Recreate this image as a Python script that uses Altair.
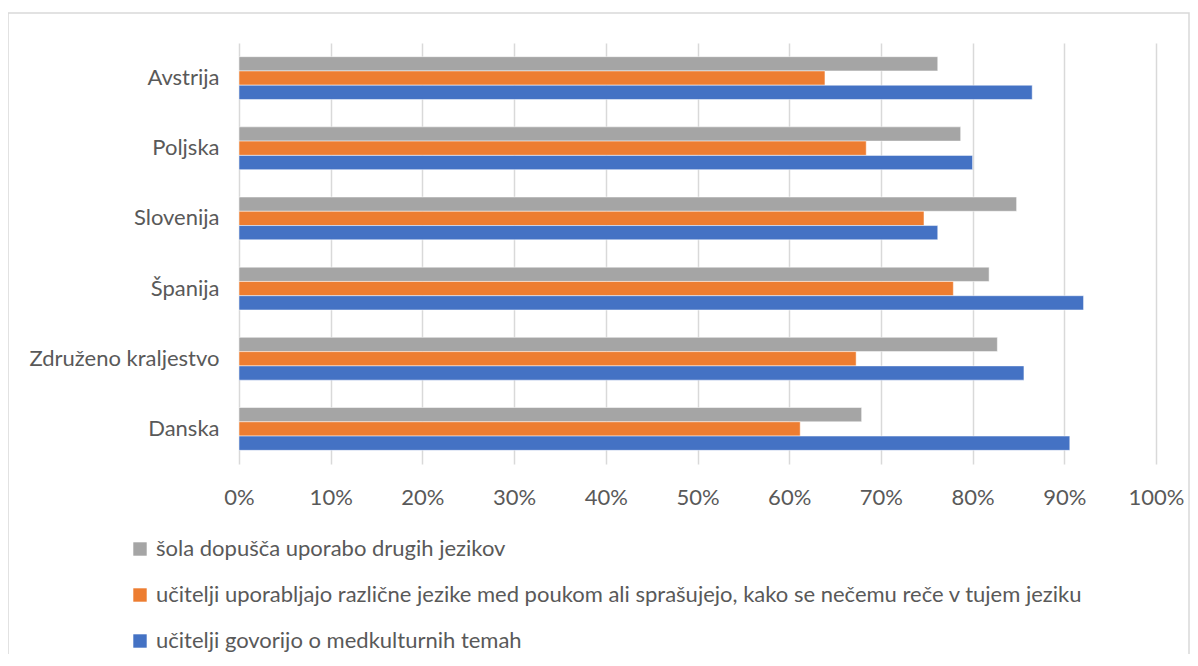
import altair as alt
import pandas as pd

countries = ["Avstrija", "Poljska", "Slovenija", "Španija", "Združeno kraljestvo", "Danska"]
series = [
    "šola dopušča uporabo drugih jezikov",
    "učitelji uporabljajo različne jezike med poukom ali sprašujejo, kako se nečemu reče v tujem jeziku",
    "učitelji govorijo o medkulturnih temah",
]
colors = ["#a5a5a5", "#ed7d31", "#4472c4"]
sola = [0.762, 0.787, 0.848, 0.818, 0.827, 0.679]
uporabljajo = [0.639, 0.684, 0.747, 0.779, 0.673, 0.612]
govorijo = [0.865, 0.800, 0.762, 0.921, 0.856, 0.906]

rows = []
for i, c in enumerate(countries):
    for s, vals in zip(series, [sola, uporabljajo, govorijo]):
        rows.append({"country": c, "series": s, "value": vals[i]})
df = pd.DataFrame(rows)

FONT = "Lato"
TXT = "#595959"
FS = 22

bars = alt.Chart(df).mark_bar(stroke="white", strokeWidth=0.5).encode(
    y=alt.Y("country:N", sort=countries, title=None,
            scale=alt.Scale(paddingInner=0.39, paddingOuter=0.195),
            axis=alt.Axis(domain=False, ticks=False, labelPadding=20, labelFontSize=FS,
                          labelColor=TXT, labelFont=FONT, grid=False, labelLimit=400)),
    yOffset=alt.YOffset("series:N", sort=series, scale=alt.Scale(paddingInner=0)),
    x=alt.X("value:Q", title=None,
            scale=alt.Scale(domain=[0, 1], nice=False),
            axis=alt.Axis(format=".0%", values=[i / 10 for i in range(11)], domain=False, ticks=False,
                          labelPadding=23, labelFontSize=FS, labelColor=TXT, labelFont=FONT,
                          labelFlush=False, labelOverlap=False, labelBound=False,
                          grid=True, gridColor="#d9d9d9", gridWidth=1.5)),
    color=alt.Color("series:N", sort=series,
                    scale=alt.Scale(domain=series, range=colors),
                    legend=alt.Legend(title=None, orient="none", legendX=-110, legendY=495,
                                      direction="vertical", symbolType="square", symbolSize=180,
                                      symbolStrokeWidth=0, labelFontSize=FS, labelColor=TXT,
                                      labelFont=FONT, rowPadding=24, labelOffset=5, labelLimit=1100)),
)

border = alt.Chart(pd.DataFrame({"a": [0]})).mark_rect(
    fill=None, stroke="#d9d9d9", strokeWidth=1.5
).encode(x=alt.value(-231), x2=alt.value(950), y=alt.value(-30), y2=alt.value(640))

chart = alt.layer(border, bars).properties(
    width=917, height=421,
    autosize=alt.AutoSizeParams(type="none"),
    padding={"left": 231, "top": 35, "right": 34, "bottom": 190},
).configure_view(stroke=None)

chart.save("out.html", embed_options={"renderer": "svg", "actions": False})
